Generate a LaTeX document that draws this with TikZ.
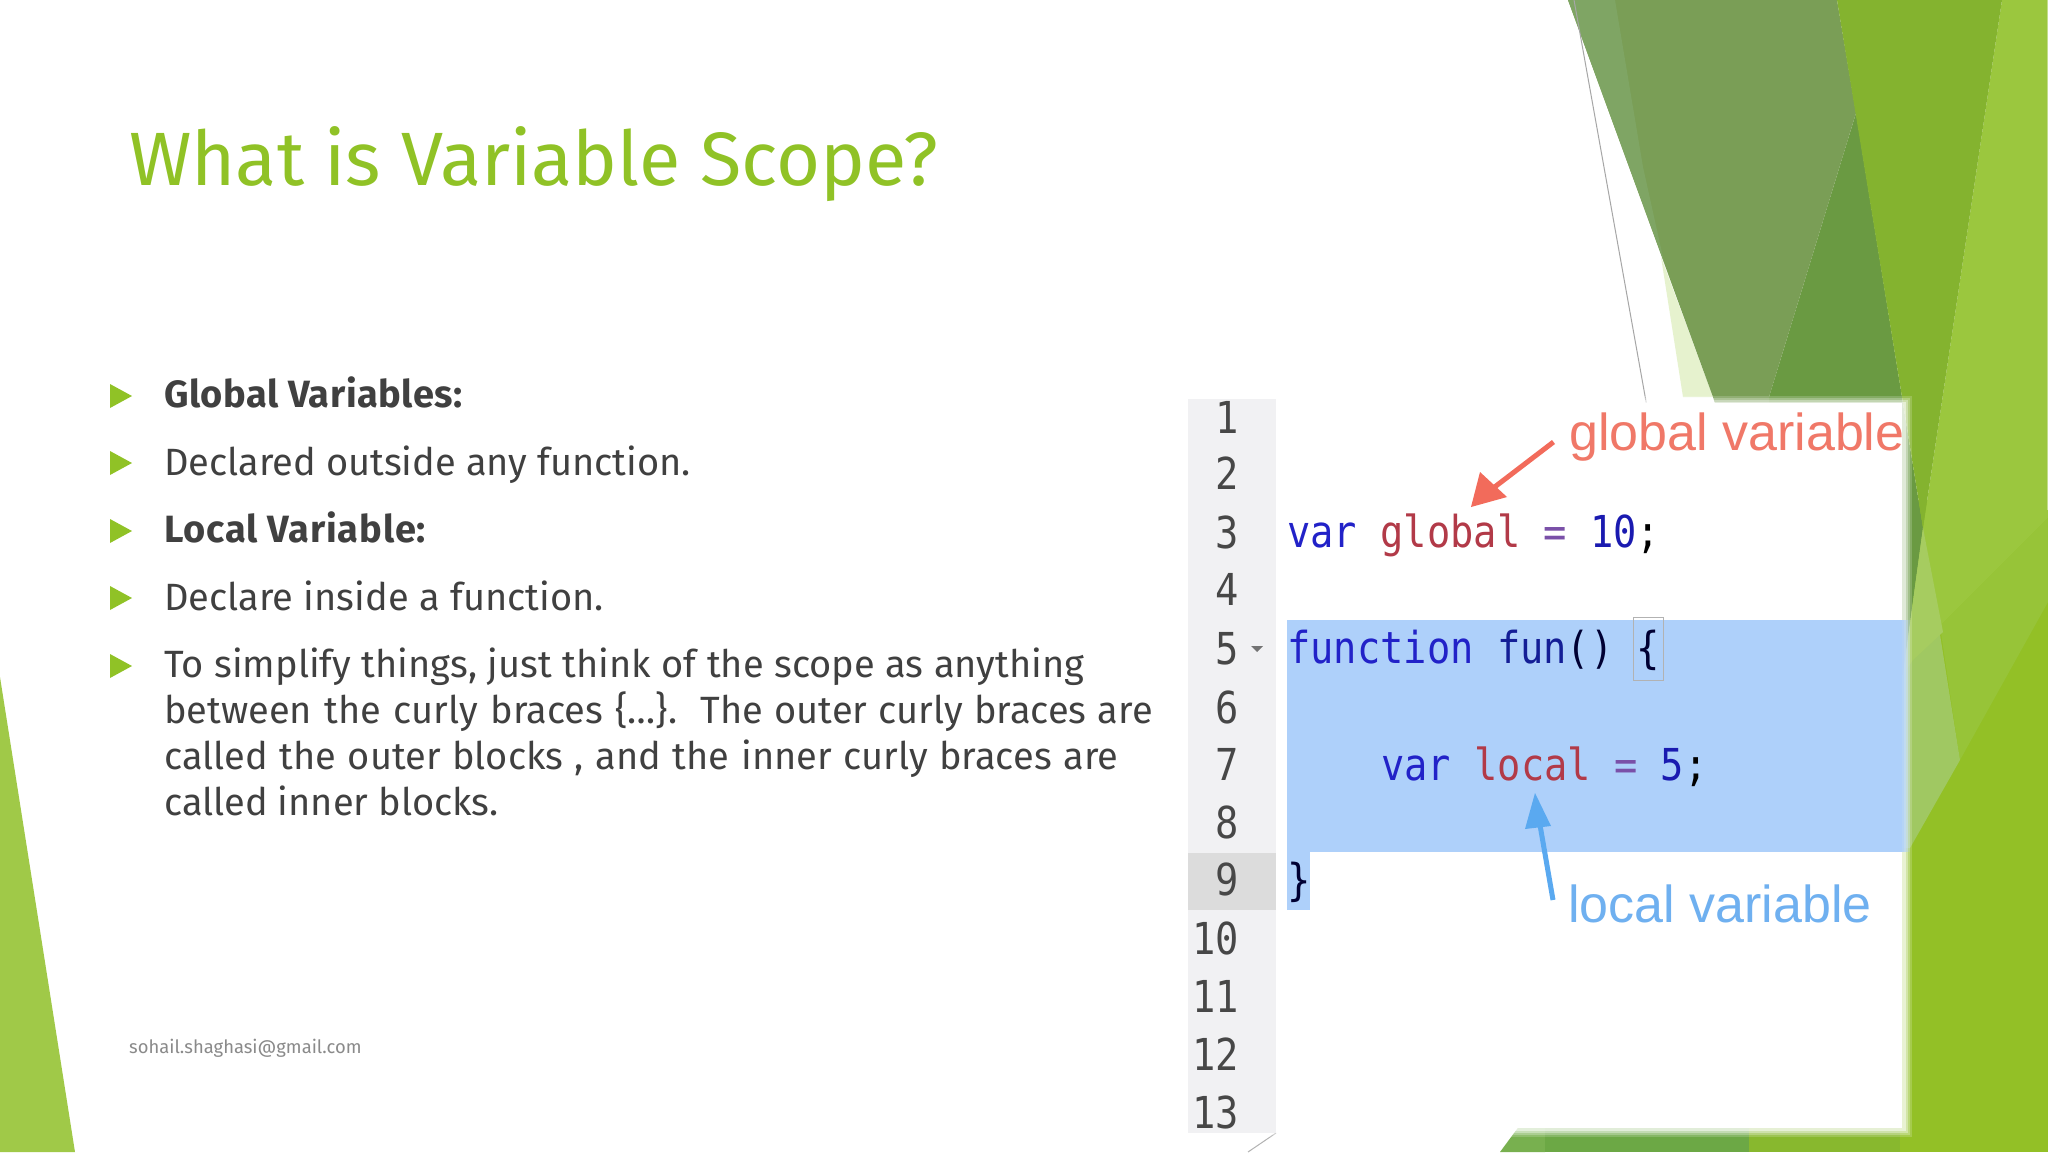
\documentclass[tikz,border=0pt]{standalone}
\usepackage{fontspec}
\setmainfont{Fira Sans}
\newfontfamily\codefont[FakeStretch=0.88]{DejaVu Sans Mono}
\newfontfamily\labelfont{Liberation Sans}
\definecolor{olive}{HTML}{7A9E56}
\definecolor{olivedark}{HTML}{6A9A42}
\definecolor{olivestrip}{HTML}{7FA564}
\definecolor{brightg}{HTML}{84B32F}
\definecolor{righttop}{HTML}{9BC73E}
\definecolor{rightmid}{HTML}{97C438}
\definecolor{rightlow}{HTML}{93C026}
\definecolor{lightg}{HTML}{A6CC60}
\definecolor{lightlow}{HTML}{A0C862}
\definecolor{paleg}{HTML}{E6F2CE}
\definecolor{cornerg}{HTML}{A0C948}
\definecolor{titleg}{HTML}{90C226}
\definecolor{bodyc}{HTML}{404040}
\definecolor{footc}{HTML}{8A8A8A}
\definecolor{gutter}{HTML}{F1F1F3}
\definecolor{gutterhi}{HTML}{DCDCDC}
\definecolor{selc}{HTML}{AED0FA}
\definecolor{kw}{HTML}{2222C8}
\definecolor{idn}{HTML}{B23A48}
\definecolor{opc}{HTML}{7A50A8}
\definecolor{numc}{HTML}{1A1AB0}
\definecolor{fnname}{HTML}{141E96}
\definecolor{redlab}{HTML}{F07868}
\definecolor{bluelab}{HTML}{6FB0F0}
\definecolor{redarr}{HTML}{F26B5B}
\definecolor{bluearr}{HTML}{5AA9F0}
\definecolor{bandA}{HTML}{78B04F}
\definecolor{bandB}{HTML}{6CA845}
\definecolor{bandC}{HTML}{88B82E}
\tikzset{
 body/.style={anchor=base west,inner sep=0pt,text=bodyc,font=\fontsize{38}{46}\selectfont},
 bodybold/.style={body,font=\fontsize{38}{46}\selectfont\bfseries},
 bul/.style={fill=titleg,draw=none},
 lnum/.style={anchor=base east,inner sep=0pt,text=black!72,font=\fontsize{44}{50}\codefont},
 code/.style={anchor=base west,inner sep=0pt,font=\fontsize{44}{50}\codefont},
 tag/.style={anchor=base west,inner sep=0pt,font=\fontsize{52}{56}\labelfont},
}
\newcommand{\bulletat}[1]{\fill[bul] (110,#1-12) -- (132,#1) -- (110,#1+12) -- cycle;}
\newcommand{\xs}[1]{\spaceskip=\dimexpr\fontdimen2\font+#1\relax}
\begin{document}
\begin{tikzpicture}[x=1pt,y=-1pt]
\useasboundingbox (0,0) rectangle (2048,1152);
\fill[white] (0,0) rectangle (2048,1152);
% corner
\fill[cornerg] (0,677) -- (75,1152) -- (0,1152) -- cycle;
% right facets
\fill[rightlow] (1880,500) rectangle (2048,1152);
\fill[righttop] (2002,0) -- (2048,0) -- (2048,518) -- (1940,626) -- (1923,528) -- cycle;
\fill[rightmid] (2048,518) -- (2048,602) -- (1960,760) -- (1940,626) -- cycle;
\fill[olivedark] (1856,113) -- (1769,397) -- (1760,420) -- (1880,700) -- (1903,675) -- (1923,528) -- (1902,397) -- cycle;
\fill[paleg] (1661,257) -- (1683,397) -- (1713,397) -- cycle;
\fill[olive] (1568,0) -- (1837,0) -- (1856,113) -- (1769,397) -- (1769,420) -- (1720,420) -- (1713,397) -- cycle;
\fill[olivestrip] (1568,0) -- (1615,0) -- (1643,167) -- (1664,262) -- cycle;
\fill[brightg] (1837,0) -- (2002,0) -- (1923,528) -- (1902,397) -- cycle;
\fill[lightlow] (1923,528) -- (1960,760) -- (1910,848) -- (1890,848) -- (1890,675) -- (1903,675) -- cycle;
\fill[lightg] (1923,528) -- (1943,632) -- (1913,660) -- (1903,675) -- cycle;
\draw[righttop!60!white,line width=1pt] (2047.5,0) -- (2047.5,510);
% bottom band
\fill[bandA] (1520,1125) -- (1545,1125) -- (1545,1152) -- (1500,1152) -- cycle;
\fill[bandB] (1545,1125) rectangle (1749,1152);
\fill[bandC] (1749,1125) rectangle (1900,1152);
\fill[rightlow] (1900,1125) rectangle (1915,1152);
% thin lines
\draw[black!35,line width=1pt] (1574,0) -- (1647,407);
\draw[black!30,line width=1pt] (1276,1133) -- (1248,1152);
% picture panel with soft edges
\foreach \e/\o in {7/0.18,5/0.25,3/0.35,1/0.5}{
  \fill[white,opacity=\o] (1185-\e,403-\e) rectangle (1905+\e,1130+\e);
}
\fill[white] (1185,403) rectangle (1902,1128);
\fill[gutter] (1188,399) rectangle (1276,1133);
\fill[gutterhi] (1188,853) rectangle (1276,910);
\foreach \e/\o in {7/0.2,5/0.3,3/0.4,1/0.6}{
  \fill[selc,opacity=\o] (1287,620) rectangle (1903+\e,852);
}
\fill[selc] (1287,620) rectangle (1902,852);
\fill[selc] (1287,852) rectangle (1310,910);
\draw[black!30,line width=1pt] (1633,617) rectangle (1663,680);
% line numbers
\node[lnum] (n1) at (1239,433) {1};
\node[lnum] (n2) at (1239,489) {2};
\node[lnum] (n3) at (1239,548) {3};
\node[lnum] (n4) at (1239,605) {4};
\node[lnum] (n5) at (1239,664) {5};
\node[lnum] (n6) at (1239,723) {6};
\node[lnum] (n7) at (1239,780) {7};
\node[lnum] (n8) at (1239,838) {8};
\node[lnum] (n9) at (1239,895) {9};
\node[lnum] (n10) at (1239,954) {10};
\node[lnum] (n11) at (1239,1012) {11};
\node[lnum] (n12) at (1239,1070) {12};
\node[lnum] (n13) at (1239,1128) {13};
\fill[black!55] (1251,646) -- (1263,646) -- (1257,652) -- cycle;
% code
\node[code] (c3) at (1287,547) {\textcolor{kw}{var} \textcolor{idn}{global} \textcolor{opc}{=} \textcolor{numc}{10}\textcolor{black}{;}};
\node[code] (c5) at (1287,663) {\textcolor{kw}{function} \textcolor{fnname}{fun}\textcolor{black!80!blue}{()} \textcolor{black!80!blue}{\{}};
\node[code] (c7) at (1381,780) {\textcolor{kw}{var} \textcolor{idn}{local} \textcolor{opc}{=} \textcolor{numc}{5}\textcolor{black}{;}};
\node[code] (c9) at (1287,895) {\textcolor{black!80!blue}{\}}};
% labels and arrows
\node[tag,text=redlab] (gv) at (1569,450) {global variable};
\node[tag,text=bluelab] (lv) at (1568,922) {local variable};
\coordinate (gtip) at (1471,507);
\coordinate (ltip) at (1535,793);
\coordinate (gtail) at (1553.5,442);
\coordinate (ltail) at (1553,900);
\fill[redarr] (gtip) -- (1480,472) -- (1507,497) -- cycle;
\draw[redarr,line width=5pt] (gtail) -- (1492,489);
\fill[bluearr] (ltip) -- (1551,826) -- (1525,829) -- cycle;
\draw[bluearr,line width=5pt] (ltail) -- (1540,825);
% title, text
\node[anchor=base west,inner sep=0pt,text=titleg,font=\fontsize{75.6}{80}\selectfont] (title) at (129,185) {What is Variable Scope?};
\bulletat{396}\bulletat{463}\bulletat{531}\bulletat{598}\bulletat{666}
\node[bodybold] (t1) at (164,407) {\addfontfeature{LetterSpace=1.4}Global Variables:};
\node[body] (t2) at (164,475) {Declared outside any function.};
\node[bodybold] (t3) at (164,542) {\addfontfeature{LetterSpace=2.2}Local Variable:};
\node[body] (t4) at (164,610) {\xs{0.5pt}Declare inside a function.};
\node[body] (t5) at (164,677) {\xs{0.5pt}To simplify things, just think of the scope as anything};
\node[body] (t6) at (164,723) {\xs{2.5pt}between the curly braces \{…\}.\hspace{7.5pt} \xs{1.25pt}The outer curly braces are};
\node[body] (t7) at (164,769) {\xs{1.6pt}called the outer blocks , and the inner curly braces are};
\node[body] (t8) at (164,815) {called inner blocks.};
\node[anchor=base west,inner sep=0pt,text=footc,font=\fontsize{18.4}{24}\selectfont] (foot) at (129,1053) {sohail.shaghasi@gmail.com};
\end{tikzpicture}
\end{document}
